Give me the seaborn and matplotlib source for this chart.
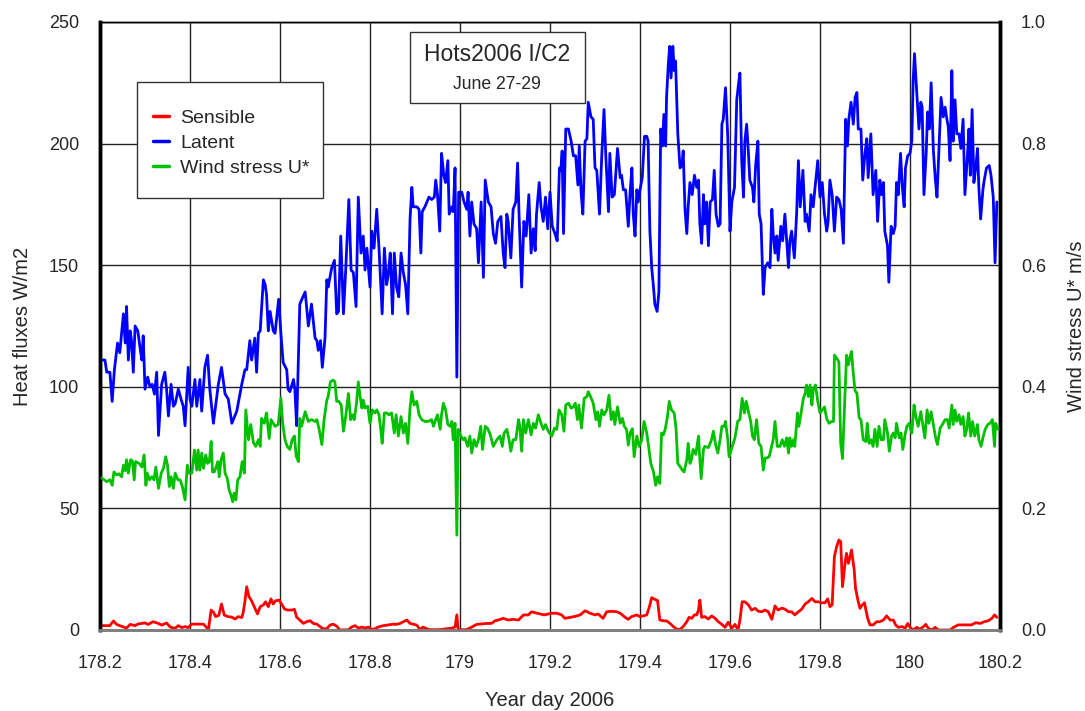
import matplotlib
matplotlib.use("Agg")
import matplotlib.pyplot as plt
from matplotlib.lines import Line2D
from matplotlib.patches import Rectangle
import seaborn as sns

sns.set_style("white")
plt.rcParams["font.family"] = ["Liberation Sans", "DejaVu Sans"]

# ---- Latent heat flux (W/m2) ----
latent_day = [
    178.204, 178.211, 178.215, 178.222, 178.227, 178.232, 178.239, 178.244, 178.252, 178.256,
    178.259, 178.263, 178.267, 178.270, 178.274, 178.278, 178.284, 178.289, 178.293, 178.296,
    178.300, 178.306, 178.311, 178.316, 178.321, 178.326, 178.330, 178.337, 178.344, 178.348,
    178.352, 178.358, 178.363, 178.367, 178.374, 178.380, 178.385, 178.389, 178.396, 178.400,
    178.404, 178.411, 178.415, 178.422, 178.426, 178.433, 178.439, 178.444, 178.452, 178.463,
    178.470, 178.478, 178.485, 178.493, 178.504, 178.515, 178.522, 178.526, 178.533, 178.537,
    178.544, 178.548, 178.552, 178.556, 178.563, 178.567, 178.570, 178.574, 178.578, 178.585,
    178.589, 178.597, 178.602, 178.607, 178.615, 178.618, 178.622, 178.630, 178.633, 178.637,
    178.644, 178.651, 178.656, 178.663, 178.670, 178.678, 178.682, 178.685, 178.690, 178.694,
    178.700, 178.704, 178.707, 178.715, 178.721, 178.726, 178.730, 178.735, 178.741, 178.746,
    178.753, 178.758, 178.763, 178.769, 178.774, 178.780, 178.785, 178.789, 178.793, 178.796,
    178.800, 178.804, 178.809, 178.815, 178.820, 178.827, 178.832, 178.837, 178.841, 178.845,
    178.850, 178.854, 178.859, 178.864, 178.869, 178.874, 178.879, 178.884, 178.889, 178.893,
    178.896, 178.904, 178.909, 178.913, 178.916, 178.922, 178.931, 178.937, 178.943, 178.946,
    178.950, 178.955, 178.959, 178.964, 178.968, 178.973, 178.976, 178.982, 178.985, 178.989,
    178.993, 178.997,
    179.004, 179.009, 179.015, 179.018, 179.022, 179.026, 179.031, 179.037, 179.041, 179.047,
    179.052, 179.056, 179.063, 179.069, 179.074, 179.079, 179.084, 179.091, 179.096, 179.100,
    179.104, 179.107, 179.113, 179.118, 179.124, 179.128, 179.131, 179.137, 179.142, 179.147,
    179.153, 179.158, 179.163, 179.167, 179.170, 179.176, 179.180, 179.185, 179.190, 179.195,
    179.200, 179.205, 179.211, 179.216, 179.221, 179.224, 179.227, 179.230, 179.235, 179.241,
    179.247, 179.252, 179.257, 179.262, 179.265, 179.269, 179.273, 179.278, 179.282, 179.285,
    179.291, 179.296, 179.300, 179.304, 179.310, 179.315, 179.320, 179.324, 179.330, 179.333,
    179.338, 179.343, 179.350, 179.356, 179.359, 179.363, 179.368, 179.374, 179.378, 179.382,
    179.385, 179.389, 179.393, 179.396, 179.400, 179.405, 179.410, 179.415, 179.418, 179.422,
    179.426, 179.430, 179.433, 179.438, 179.442, 179.446, 179.450, 179.453, 179.457, 179.459,
    179.463, 179.466, 179.469, 179.473, 179.476, 179.479, 179.484, 179.489, 179.493, 179.496,
    179.500, 179.504, 179.507, 179.511, 179.516, 179.521, 179.526, 179.530, 179.533, 179.537,
    179.541, 179.544, 179.548, 179.552, 179.556, 179.561, 179.565, 179.569, 179.574, 179.578,
    179.582, 179.585, 179.590, 179.595, 179.600, 179.604, 179.610, 179.615, 179.618, 179.622,
    179.626, 179.630, 179.633, 179.637, 179.641, 179.644, 179.650, 179.653, 179.657, 179.662,
    179.665, 179.669, 179.674, 179.678, 179.684, 179.689, 179.693, 179.696, 179.700, 179.704,
    179.707, 179.713, 179.717, 179.722, 179.726, 179.730, 179.733, 179.737, 179.743, 179.748,
    179.752, 179.756, 179.762, 179.767, 179.770, 179.776, 179.780, 179.785, 179.789, 179.795,
    179.800, 179.805, 179.810, 179.815, 179.818, 179.822, 179.827, 179.832, 179.837, 179.842,
    179.847, 179.852, 179.857, 179.861, 179.864, 179.869, 179.874, 179.878, 179.882, 179.885,
    179.891, 179.895, 179.900, 179.904, 179.907, 179.913, 179.918, 179.924, 179.928, 179.933,
    179.937, 179.941, 179.944, 179.950, 179.953, 179.958, 179.963, 179.967, 179.970, 179.974,
    179.979, 179.983, 179.987, 179.990, 179.995,
    180.000, 180.004, 180.007, 180.010, 180.015, 180.020, 180.024, 180.027, 180.031, 180.036,
    180.039, 180.043, 180.047, 180.052, 180.056, 180.060, 180.064, 180.069, 180.074, 180.078,
    180.082, 180.085, 180.089, 180.093, 180.096, 180.100, 180.104, 180.109, 180.113, 180.118,
    180.122, 180.127, 180.131, 180.134, 180.138, 180.142, 180.146, 180.150, 180.153, 180.157,
    180.162, 180.165, 180.170, 180.176, 180.180, 180.185, 180.189, 180.193,
]
latent_wm2 = [
    111, 111, 106, 106, 94, 107, 118, 114, 130, 118,
    133, 111, 123, 119, 106, 125, 123, 116, 111, 121,
    99, 104, 100, 101, 97, 106, 80, 101, 106, 99,
    88, 101, 92, 93, 99, 95, 92, 84, 108, 95,
    92, 103, 92, 103, 90, 108, 113, 99, 85, 101,
    108, 97, 95, 85, 90, 101, 107, 107, 119, 111,
    120, 106, 122, 123, 144, 142, 138, 123, 131, 123,
    122, 136, 122, 110, 107, 99, 98, 103, 99, 84,
    134, 137, 139, 125, 134, 120, 119, 115, 119, 108,
    120, 144, 141, 149, 152, 130, 131, 162, 130, 148,
    177, 148, 147, 133, 178, 155, 162, 148, 157, 150,
    141, 164, 157, 173, 157, 130, 157, 142, 147, 155,
    130, 155, 141, 137, 155, 147, 142, 130, 169, 182,
    174, 174, 173, 155, 172, 174, 178, 177, 178, 185,
    179, 164, 196, 187, 184, 193, 171, 174, 172, 190,
    104, 180,
    180, 176, 173, 180, 162, 176, 167, 165, 151, 176,
    145, 185, 176, 174, 163, 159, 168, 170, 155, 149,
    171, 168, 153, 173, 176, 192, 172, 141, 168, 162,
    179, 155, 165, 156, 171, 184, 174, 168, 178, 165,
    180, 166, 163, 160, 190, 189, 197, 163, 206, 206,
    201, 195, 195, 183, 199, 180, 171, 201, 202, 217,
    211, 210, 190, 189, 171, 195, 214, 195, 172, 196,
    178, 179, 198, 186, 187, 181, 181, 166, 180, 190,
    171, 162, 181, 176, 181, 186, 203, 203, 201, 164,
    149, 141, 134, 131, 139, 206, 199, 212, 199, 219,
    233, 240, 227, 240, 230, 234, 204, 190, 191, 197,
    173, 163, 174, 184, 179, 187, 182, 185, 167, 159,
    179, 167, 176, 158, 176, 177, 189, 171, 166, 167,
    208, 210, 223, 203, 164, 176, 182, 218, 223, 229,
    193, 178, 201, 208, 196, 185, 182, 176, 191, 201,
    171, 167, 138, 149, 151, 149, 173, 163, 155, 162,
    152, 166, 160, 171, 160, 149, 160, 164, 153, 171,
    193, 174, 189, 168, 171, 164, 179, 174, 182, 193,
    178, 184, 171, 164, 168, 185, 179, 164, 178, 177,
    173, 159, 210, 199, 210, 217, 208, 219, 221, 206,
    206, 185, 196, 202, 186, 204, 179, 189, 168, 185,
    179, 184, 164, 158, 143, 166, 163, 166, 184, 179,
    196, 182, 174, 190, 195,
    196, 201, 226, 237, 221, 206, 217, 215, 179, 196,
    213, 206, 225, 197, 186, 178, 196, 219, 211, 215,
    210, 207, 193, 230, 201, 218, 204, 204, 198, 210,
    179, 193, 206, 187, 214, 184, 190, 198, 182, 169,
    181, 185, 190, 191, 187, 178, 151, 176,
]

# ---- Wind stress U* (m/s) ----
ustar_day = [
    178.204, 178.215, 178.222, 178.227, 178.231, 178.237, 178.242, 178.248, 178.252, 178.256,
    178.259, 178.263, 178.268, 178.272, 178.276, 178.279, 178.287, 178.293, 178.298, 178.302,
    178.305, 178.310, 178.315, 178.320, 178.324, 178.330, 178.336, 178.341, 178.346, 178.350,
    178.354, 178.358, 178.363, 178.367, 178.373, 178.378, 178.383, 178.389, 178.394, 178.398,
    178.404, 178.410, 178.415, 178.418, 178.422, 178.426, 178.430, 178.435, 178.439, 178.443,
    178.447, 178.450, 178.454, 178.458, 178.462, 178.465, 178.469, 178.474, 178.478, 178.483,
    178.487, 178.491, 178.495, 178.498, 178.502, 178.506, 178.511, 178.516, 178.521, 178.524,
    178.530, 178.535, 178.541, 178.546, 178.552, 178.556, 178.559, 178.565, 178.570, 178.576,
    178.580, 178.585, 178.589, 178.596, 178.602, 178.606, 178.611, 178.616, 178.622, 178.627,
    178.632, 178.636, 178.641, 178.644, 178.648, 178.656, 178.663, 178.670, 178.678, 178.682,
    178.687, 178.693, 178.698, 178.704, 178.707, 178.712, 178.718, 178.722, 178.726, 178.731,
    178.736, 178.741, 178.746, 178.752, 178.757, 178.761, 178.765, 178.770, 178.774, 178.778,
    178.782, 178.785, 178.789, 178.795, 178.800, 178.805, 178.811, 178.815, 178.820, 178.824,
    178.827, 178.832, 178.837, 178.842, 178.848, 178.854, 178.858, 178.863, 178.869, 178.874,
    178.879, 178.884, 178.889, 178.893, 178.898, 178.904, 178.909, 178.915, 178.922, 178.930,
    178.937, 178.941, 178.946, 178.950, 178.956, 178.959, 178.963, 178.968, 178.973, 178.978,
    178.982, 178.985, 178.989, 178.993, 178.996,
    179.002, 179.007, 179.011, 179.017, 179.022, 179.026, 179.031, 179.036, 179.041, 179.046,
    179.050, 179.056, 179.061, 179.067, 179.074, 179.082, 179.089, 179.094, 179.098, 179.104,
    179.109, 179.113, 179.118, 179.124, 179.130, 179.133, 179.137, 179.141, 179.146, 179.152,
    179.158, 179.163, 179.168, 179.174, 179.180, 179.185, 179.190, 179.196, 179.204, 179.210,
    179.215, 179.220, 179.226, 179.231, 179.235, 179.241, 179.247, 179.252, 179.256, 179.261,
    179.264, 179.270, 179.276, 179.282, 179.285, 179.290, 179.296, 179.302, 179.306, 179.310,
    179.315, 179.320, 179.326, 179.331, 179.336, 179.341, 179.344, 179.350, 179.356, 179.361,
    179.365, 179.370, 179.374, 179.378, 179.383, 179.387, 179.393, 179.398, 179.404, 179.409,
    179.415, 179.420, 179.424, 179.430, 179.435, 179.439, 179.444, 179.448, 179.452, 179.456,
    179.461, 179.465, 179.470, 179.476, 179.480, 179.484, 179.489, 179.494, 179.498, 179.504,
    179.507, 179.511, 179.515, 179.518, 179.524, 179.530, 179.533, 179.536, 179.541, 179.544,
    179.552, 179.559, 179.563, 179.568, 179.573, 179.578, 179.582, 179.587, 179.590, 179.595,
    179.598, 179.605, 179.611, 179.617, 179.622, 179.627, 179.632, 179.636, 179.641, 179.646,
    179.650, 179.654, 179.659, 179.664, 179.669, 179.674, 179.678, 179.682, 179.687, 179.691,
    179.696, 179.700, 179.705, 179.711, 179.716, 179.721, 179.726, 179.730, 179.733, 179.737,
    179.741, 179.744, 179.750, 179.753, 179.758, 179.763, 179.767, 179.770, 179.774, 179.778,
    179.782, 179.785, 179.790, 179.795, 179.800, 179.805, 179.810, 179.815, 179.820, 179.826,
    179.830, 179.832, 179.837, 179.842, 179.846, 179.850, 179.856, 179.859, 179.863, 179.867,
    179.870, 179.874, 179.878, 179.882, 179.887, 179.891, 179.896, 179.902, 179.905, 179.909,
    179.913, 179.918, 179.922, 179.927, 179.931, 179.936, 179.941, 179.944, 179.950, 179.954,
    179.959, 179.963, 179.967, 179.970, 179.976, 179.980, 179.984, 179.989, 179.993, 179.998,
    180.004, 180.009, 180.013, 180.018, 180.024, 180.028, 180.033, 180.038, 180.042, 180.047,
    180.052, 180.057, 180.061, 180.067, 180.072, 180.078, 180.083, 180.087, 180.093, 180.096,
    180.100, 180.104, 180.109, 180.113, 180.118, 180.122, 180.126, 180.130, 180.135, 180.139,
    180.144, 180.150, 180.153, 180.158, 180.162, 180.167, 180.173, 180.178, 180.183, 180.188,
    180.190, 180.196,
]
ustar_ms = [
    0.250, 0.244, 0.247, 0.238, 0.260, 0.255, 0.257, 0.252, 0.271, 0.262,
    0.280, 0.258, 0.280, 0.278, 0.247, 0.277, 0.274, 0.268, 0.288, 0.238,
    0.258, 0.247, 0.252, 0.247, 0.268, 0.233, 0.258, 0.266, 0.285, 0.271,
    0.236, 0.252, 0.233, 0.258, 0.247, 0.247, 0.236, 0.214, 0.271, 0.258,
    0.258, 0.296, 0.263, 0.296, 0.263, 0.291, 0.266, 0.288, 0.274, 0.277,
    0.310, 0.260, 0.260, 0.268, 0.277, 0.252, 0.280, 0.291, 0.258, 0.249,
    0.230, 0.222, 0.211, 0.225, 0.214, 0.247, 0.252, 0.277, 0.258, 0.362,
    0.313, 0.338, 0.308, 0.302, 0.313, 0.302, 0.348, 0.340, 0.357, 0.315,
    0.346, 0.340, 0.335, 0.338, 0.381, 0.340, 0.313, 0.302, 0.297, 0.313,
    0.319, 0.286, 0.277, 0.348, 0.335, 0.359, 0.343, 0.346, 0.343, 0.346,
    0.330, 0.305, 0.346, 0.378, 0.384, 0.408, 0.411, 0.408, 0.376, 0.376,
    0.370, 0.327, 0.351, 0.389, 0.346, 0.354, 0.346, 0.373, 0.408, 0.384,
    0.365, 0.378, 0.365, 0.368, 0.340, 0.362, 0.357, 0.362, 0.354, 0.330,
    0.307, 0.357, 0.357, 0.354, 0.357, 0.324, 0.354, 0.319, 0.351, 0.324,
    0.340, 0.307, 0.365, 0.392, 0.370, 0.376, 0.354, 0.346, 0.343, 0.343,
    0.346, 0.335, 0.346, 0.354, 0.330, 0.354, 0.373, 0.362, 0.338, 0.335,
    0.343, 0.313, 0.340, 0.156, 0.330,
    0.319, 0.313, 0.316, 0.302, 0.319, 0.291, 0.313, 0.302, 0.313, 0.335,
    0.297, 0.335, 0.332, 0.322, 0.302, 0.313, 0.319, 0.302, 0.324, 0.330,
    0.313, 0.294, 0.313, 0.313, 0.346, 0.335, 0.294, 0.346, 0.324, 0.346,
    0.321, 0.340, 0.332, 0.354, 0.340, 0.330, 0.338, 0.327, 0.319, 0.332,
    0.330, 0.362, 0.354, 0.327, 0.370, 0.373, 0.365, 0.367, 0.373, 0.346,
    0.370, 0.332, 0.381, 0.384, 0.392, 0.384, 0.373, 0.346, 0.359, 0.335,
    0.362, 0.354, 0.362, 0.386, 0.346, 0.359, 0.338, 0.367, 0.340, 0.348,
    0.335, 0.330, 0.304, 0.324, 0.331, 0.285, 0.319, 0.302, 0.313, 0.343,
    0.324, 0.297, 0.274, 0.260, 0.238, 0.252, 0.241, 0.324, 0.321, 0.330,
    0.351, 0.376, 0.362, 0.357, 0.332, 0.274, 0.269, 0.263, 0.260, 0.280,
    0.307, 0.274, 0.282, 0.297, 0.289, 0.319, 0.280, 0.249, 0.297, 0.302,
    0.300, 0.313, 0.327, 0.305, 0.291, 0.313, 0.335, 0.335, 0.343, 0.313,
    0.285, 0.302, 0.316, 0.343, 0.346, 0.381, 0.357, 0.376, 0.359, 0.343,
    0.319, 0.313, 0.346, 0.307, 0.302, 0.263, 0.283, 0.283, 0.285, 0.297,
    0.313, 0.343, 0.302, 0.302, 0.313, 0.302, 0.316, 0.291, 0.316, 0.302,
    0.313, 0.302, 0.357, 0.335, 0.357, 0.381, 0.389, 0.403, 0.384, 0.403,
    0.370, 0.395, 0.403, 0.376, 0.357, 0.362, 0.367, 0.347, 0.340, 0.343,
    0.343, 0.452, 0.447, 0.441, 0.307, 0.282, 0.395, 0.452, 0.436, 0.450,
    0.458, 0.422, 0.393, 0.390, 0.349, 0.346, 0.313, 0.310, 0.340, 0.307,
    0.313, 0.302, 0.330, 0.302, 0.335, 0.313, 0.313, 0.346, 0.324, 0.294,
    0.319, 0.324, 0.316, 0.340, 0.316, 0.324, 0.297, 0.321, 0.335, 0.340,
    0.324, 0.370, 0.351, 0.335, 0.359, 0.340, 0.316, 0.362, 0.340, 0.359,
    0.338, 0.316, 0.305, 0.332, 0.338, 0.346, 0.346, 0.332, 0.370, 0.338,
    0.362, 0.343, 0.354, 0.338, 0.351, 0.319, 0.330, 0.357, 0.319, 0.343,
    0.319, 0.338, 0.313, 0.302, 0.316, 0.330, 0.338, 0.340, 0.346, 0.302,
    0.340, 0.330,
]

# ---- Sensible heat flux (W/m2) ----
sensible_day = [
    178.204, 178.222, 178.230, 178.237, 178.248, 178.259, 178.267, 178.278, 178.285, 178.300,
    178.307, 178.318, 178.330, 178.337, 178.348, 178.356, 178.367, 178.374, 178.382, 178.389,
    178.396, 178.404, 178.418, 178.430, 178.441, 178.447, 178.452, 178.457, 178.464, 178.470,
    178.476, 178.484, 178.493, 178.500, 178.507, 178.515, 178.518, 178.522, 178.526, 178.531,
    178.536, 178.541, 178.544, 178.550, 178.556, 178.563, 178.568, 178.574, 178.580, 178.585,
    178.590, 178.598, 178.604, 178.610, 178.617, 178.626, 178.632, 178.637, 178.644, 178.652,
    178.659, 178.667, 178.674, 178.682, 178.689, 178.696, 178.704, 178.711, 178.718, 178.726,
    178.733, 178.752, 178.759, 178.767, 178.774, 178.782, 178.789, 178.796, 178.804, 178.811,
    178.818, 178.830, 178.841, 178.852, 178.859, 178.867, 178.874, 178.882, 178.889, 178.896,
    178.904, 178.911, 178.918, 178.930, 178.944, 178.959, 178.970, 178.982, 178.989, 178.993,
    178.996,
    179.004, 179.015, 179.026, 179.037, 179.048, 179.059, 179.070, 179.078, 179.085, 179.096,
    179.107, 179.118, 179.130, 179.141, 179.152, 179.159, 179.167, 179.178, 179.187, 179.204,
    179.215, 179.226, 179.233, 179.244, 179.256, 179.267, 179.278, 179.289, 179.300, 179.307,
    179.318, 179.326, 179.337, 179.348, 179.356, 179.367, 179.374, 179.381, 179.393, 179.400,
    179.407, 179.415, 179.421, 179.426, 179.433, 179.439, 179.444, 179.452, 179.459, 179.467,
    179.474, 179.482, 179.489, 179.496, 179.504, 179.509, 179.515, 179.521, 179.526, 179.530,
    179.533, 179.537, 179.544, 179.552, 179.559, 179.567, 179.574, 179.582, 179.589, 179.596,
    179.604, 179.611, 179.618, 179.622, 179.627, 179.633, 179.641, 179.648, 179.656, 179.663,
    179.670, 179.678, 179.685, 179.693, 179.700, 179.707, 179.715, 179.722, 179.730, 179.737,
    179.744, 179.752, 179.759, 179.767, 179.774, 179.782, 179.789, 179.796, 179.804, 179.811,
    179.817, 179.822, 179.827, 179.832, 179.837, 179.842, 179.846, 179.850, 179.856, 179.859,
    179.863, 179.867, 179.870, 179.876, 179.879, 179.885, 179.889, 179.894, 179.899, 179.902,
    179.906, 179.911, 179.918, 179.926, 179.933, 179.941, 179.948, 179.956, 179.963, 179.968,
    179.974, 179.983, 179.989, 179.995,
    180.000, 180.007, 180.015, 180.022, 180.030, 180.035, 180.041, 180.048, 180.056, 180.063,
    180.070, 180.078, 180.089, 180.096, 180.107, 180.122, 180.137, 180.146, 180.156, 180.165,
    180.174, 180.182, 180.188, 180.193,
]
sensible_wm2 = [
    1.8, 1.8, 3.7, 2.3, 1.5, 0.8, 2.3, 1.8, 2.5, 2.9,
    2.3, 3.4, 2.7, 2.0, 2.9, 1.2, 0.7, 1.8, 1.0, 1.4,
    1.0, 2.4, 2.4, 2.4, 0.2, 8.2, 7.3, 5.5, 6.0, 10.7,
    6.2, 5.5, 5.3, 4.5, 5.5, 5.1, 7.0, 11.6, 17.8, 13.7,
    12.3, 10.3, 9.2, 6.6, 9.6, 10.3, 11.6, 9.6, 12.8, 10.7,
    12.0, 12.3, 10.6, 8.6, 8.2, 8.2, 8.5, 5.3, 4.1, 2.7,
    3.4, 3.8, 2.7, 2.4, 1.4, 0.5, 0.5, 2.0, 2.4, 1.6,
    0.0, 0.1, 1.2, 1.8, 0.8, 1.2, 0.8, 1.2, 0.3, 0.5,
    1.2, 1.8, 2.1, 2.4, 2.3, 2.7, 3.4, 4.1, 2.7, 2.4,
    2.0, 0.2, 1.2, 0.2, 0.1, 0.2, 0.5, 0.8, 1.2, 6.2,
    0.2,
    0.1, 0.2, 1.2, 2.3, 2.5, 2.7, 2.7, 3.8, 4.1, 4.8,
    4.1, 4.4, 4.1, 6.2, 6.2, 7.5, 7.1, 6.6, 6.2, 6.9,
    6.9, 6.2, 4.8, 5.2, 5.6, 6.2, 7.9, 6.9, 6.2, 6.6,
    4.8, 7.5, 7.7, 7.5, 6.9, 5.2, 4.4, 5.5, 6.2, 5.5,
    5.8, 6.2, 9.6, 13.3, 12.6, 12.1, 4.1, 3.8, 3.7, 2.7,
    1.4, 0.3, 0.3, 1.4, 3.4, 5.2, 4.8, 6.2, 6.2, 8.2,
    12.3, 5.2, 5.5, 4.5, 5.8, 4.8, 3.4, 2.3, 1.1, 3.2,
    0.7, 2.3, 0.0, 4.1, 11.6, 11.6, 10.3, 8.2, 8.9, 7.7,
    7.5, 8.2, 7.5, 4.4, 9.9, 8.2, 9.0, 8.6, 7.5, 7.5,
    6.2, 7.5, 8.5, 10.7, 11.6, 13.0, 11.6, 11.6, 11.2, 11.2,
    12.8, 9.6, 10.3, 30.2, 34.3, 37.0, 36.3, 17.8, 28.1, 31.5,
    27.4, 30.2, 32.9, 24.7, 17.1, 11.6, 8.9, 10.3, 11.2, 8.2,
    4.8, 2.1, 2.1, 3.4, 3.4, 4.1, 5.8, 4.1, 4.1, 2.1,
    1.1, 1.4, 0.7, 2.7,
    1.1, 0.0, 1.1, 0.3, 1.4, 2.3, 0.7, 0.0, 1.1, 0.0,
    0.0, 0.0, 0.0, 1.0, 2.1, 2.1, 2.1, 3.0, 2.7, 3.4,
    3.8, 4.8, 6.2, 5.2,
]

x_ticks = [178.2, 178.4, 178.6, 178.8, 179.0, 179.2, 179.4, 179.6, 179.8, 180.0, 180.2]
x_tick_labels = ["178.2", "178.4", "178.6", "178.8", "179", "179.2", "179.4",
                 "179.6", "179.8", "180", "180.2"]
flux_ticks = [0, 50, 100, 150, 200, 250]
ustar_ticks = [0.0, 0.2, 0.4, 0.6, 0.8, 1.0]
ustar_tick_labels = ["0.0", "0.2", "0.4", "0.6", "0.8", "1.0"]
series_labels = ["Sensible", "Latent", "Wind stress U*"]
series_colors = ["#ff0000", "#0000ff", "#00c000"]

W, H = 1085, 711
fig = plt.figure(figsize=(W / 100, H / 100), dpi=100)
ax = fig.add_axes([100 / W, 1 - 630 / H, 900 / W, 608 / H])
ax2 = ax.twinx()

lw = 2.0
sns.lineplot(x=sensible_day, y=sensible_wm2, ax=ax, color=series_colors[0],
             lw=lw, estimator=None, sort=False, zorder=3)
sns.lineplot(x=latent_day, y=latent_wm2, ax=ax, color=series_colors[1],
             lw=lw, estimator=None, sort=False, zorder=3)
sns.lineplot(x=ustar_day, y=ustar_ms, ax=ax2, color=series_colors[2],
             lw=lw, estimator=None, sort=False, zorder=3)

ax.set_xlim(178.2, 180.2)
ax.set_ylim(0, 250)
ax2.set_ylim(0, 1.0)

ax.set_xticks(x_ticks)
ax.set_xticklabels(x_tick_labels)
ax.set_yticks(flux_ticks)
ax.set_yticklabels([str(v) for v in flux_ticks])
ax2.set_yticks(ustar_ticks)
ax2.set_yticklabels(ustar_tick_labels)

tick_fs = 13
ax.tick_params(axis="x", direction="in", length=5, width=1, color="#555555",
               pad=18, labelsize=tick_fs)
ax.tick_params(axis="y", length=0, pad=15, labelsize=tick_fs)
ax2.tick_params(axis="y", length=0, pad=15, labelsize=tick_fs)

ax.grid(True, color="#222222", lw=1.0, zorder=0)
ax.set_axisbelow(True)

for a in (ax, ax2):
    a.spines["left"].set_linewidth(2.5)
    a.spines["right"].set_linewidth(2.5)
    a.spines["left"].set_color("black")
    a.spines["right"].set_color("black")
    a.spines["top"].set_linewidth(1.0)
    a.spines["top"].set_color("black")
    a.spines["bottom"].set_linewidth(2.0)
    a.spines["bottom"].set_color("#7f7f7f")

label_fs = 14.5
ax.set_xlabel("Year day 2006", fontsize=label_fs)
ax.xaxis.set_label_coords(0.5, -0.1)
ax.set_ylabel("Heat fluxes W/m2", fontsize=label_fs)
ax.yaxis.set_label_coords(-0.076, 0.5)
ax2.set_ylabel("Wind stress U* m/s", fontsize=label_fs)
ax2.yaxis.set_label_coords(1.075, 0.5)

# legend: entries without frame, frame drawn as a separate box
ax2.add_patch(Rectangle((0.0411, 0.7105), 0.2067, 0.1908, transform=ax2.transAxes,
                        facecolor="white", edgecolor="#333333", lw=1.0, zorder=9))
handles = [Line2D([0], [0], color=c, lw=2.5) for c in series_colors]
leg = ax2.legend(handles, series_labels, loc="upper left",
                 bbox_to_anchor=(0.0589, 0.857), frameon=False,
                 fontsize=14, handlelength=0.8, handletextpad=0.6,
                 borderpad=0, labelspacing=0.39, borderaxespad=0)
leg.set_zorder(10)

# title box
ax2.add_patch(Rectangle((0.3444, 0.8668), 0.1945, 0.1168, transform=ax2.transAxes,
                        facecolor="white", edgecolor="#333333", lw=1.0, zorder=9))
ax2.text(0.4411, 0.946, "Hots2006 I/C2", transform=ax2.transAxes, ha="center",
         va="center", fontsize=16.5, zorder=11)
ax2.text(0.4411, 0.897, "June 27-29", transform=ax2.transAxes, ha="center",
         va="center", fontsize=12.7, zorder=11)

fig.savefig("out.png", dpi=100)
